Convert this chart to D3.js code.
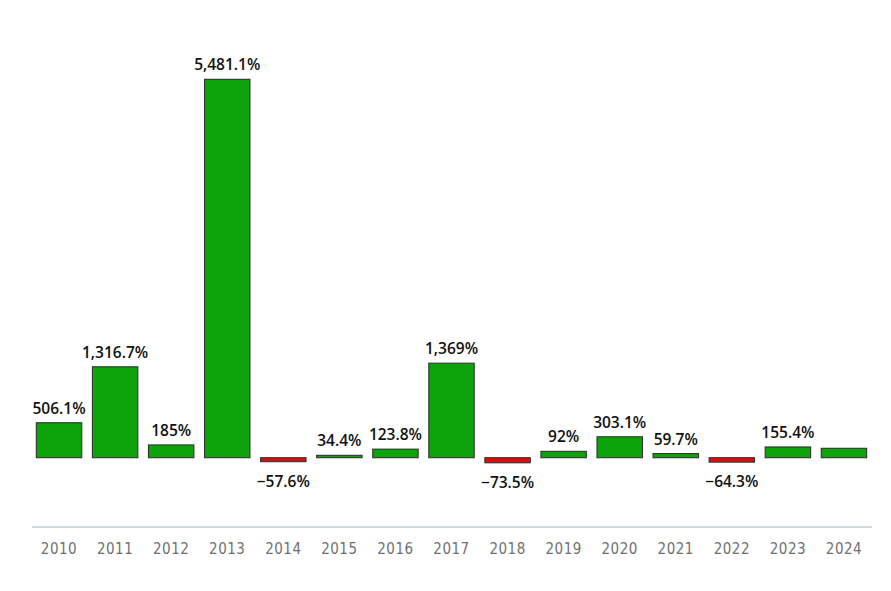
<!DOCTYPE html>
<html>
<head>
<meta charset="utf-8">
<script src="https://cdn.jsdelivr.net/npm/d3@7"></script>
<style>
  body { margin: 0; background: #fff; }
  svg { display: block; }
</style>
</head>
<body>
<div id="chart"></div>
<script>
var years = ["2010", "2011", "2012", "2013", "2014", "2015", "2016", "2017",
  "2018", "2019", "2020", "2021", "2022", "2023", "2024"];
var growth = [506.1, 1316.7, 185, 5481.1, -57.6, 34.4, 123.8, 1369,
  -73.5, 92, 303.1, 59.7, -64.3, 155.4, 136];
// the last bar has no label in the picture
var showLabel = [true, true, true, true, true, true, true, true,
  true, true, true, true, true, true, false];

var width = 891, height = 591;

var svg = d3.select("#chart")
  .append("svg")
  .attr("width", width)
  .attr("height", height);

var x = d3.scaleBand()
  .domain(years)
  .range([31, 872])
  .paddingInner(0.19)
  .paddingOuter(0.095);

var y = d3.scaleLinear()
  .domain([0, 5481.1])
  .range([457.7, 79.3]);

var fmt = d3.format(",");

var bars = svg.selectAll("g.bar")
  .data(years.map(function (d, i) {
    return { year: d, value: growth[i], label: showLabel[i] };
  }))
  .enter()
  .append("g")
  .attr("class", "bar");

bars.append("rect")
  .attr("x", function (d) { return x(d.year); })
  .attr("y", function (d) { return Math.min(y(d.value), y(0)); })
  .attr("width", x.bandwidth())
  .attr("height", function (d) { return Math.abs(y(d.value) - y(0)); })
  .attr("fill", function (d) { return d.value < 0 ? "#e00b0b" : "#0da30a"; })
  .attr("stroke", "#333")
  .attr("stroke-width", 1.1);

bars.filter(function (d) { return d.label; })
  .append("text")
  .attr("x", function (d) { return x(d.year) + x.bandwidth() / 2; })
  .attr("y", function (d) {
    return d.value < 0 ? y(d.value) + 25 : y(d.value) - 9;
  })
  .attr("text-anchor", "middle")
  .attr("font-family", "'Open Sans', sans-serif")
  .attr("font-weight", 600)
  .attr("font-size", "15.5px")
  .attr("fill", "#111")
  .text(function (d) {
    return (d.value < 0 ? "\u2212" + fmt(-d.value) : fmt(d.value)) + "%";
  });

// x axis
var xAxis = svg.append("g")
  .attr("transform", "translate(0,527)")
  .call(d3.axisBottom(x).tickSize(0).tickPadding(16));

xAxis.select(".domain")
  .attr("d", "M32,0H872")
  .attr("stroke", "#d3dde0")
  .attr("stroke-width", 2);

xAxis.selectAll("text")
  .attr("font-family", "'DejaVu Sans Condensed', 'DejaVu Sans', sans-serif")
  .style("font-stretch", "condensed")
  .attr("font-size", "15px")
  .attr("letter-spacing", "0.5px")
  .attr("fill", "#707070");
</script>
</body>
</html>
